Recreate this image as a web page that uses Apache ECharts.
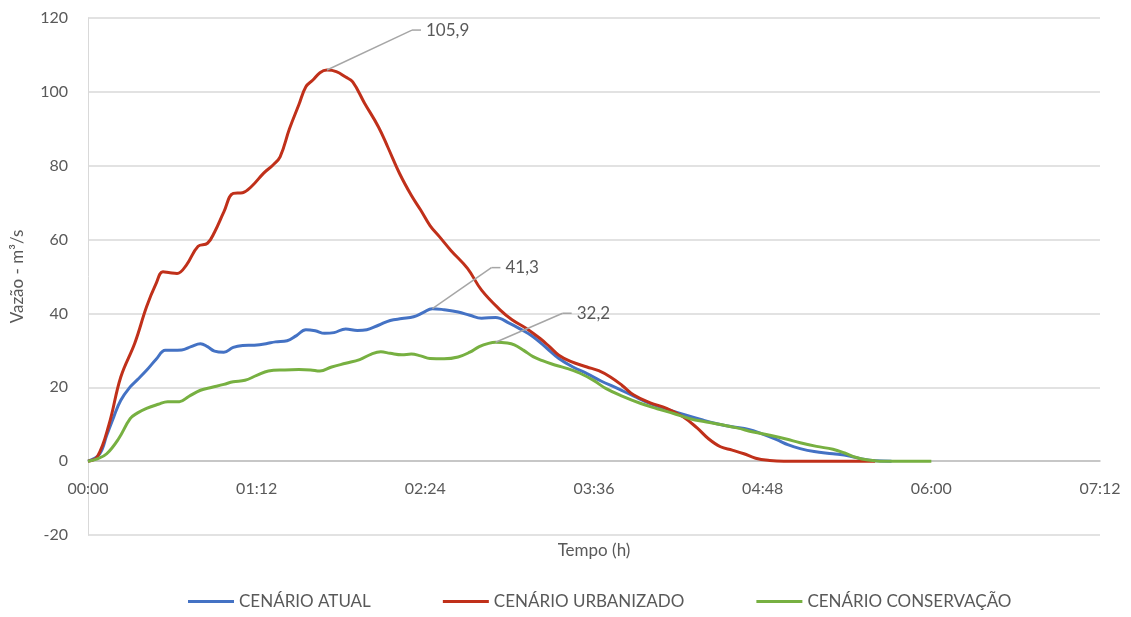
<!DOCTYPE html>
<html>
<head>
<meta charset="utf-8">
<script src="https://cdn.jsdelivr.net/npm/echarts@6/dist/echarts.min.js"></script>
<style>
  html, body { margin: 0; padding: 0; background: #fff; }
  #chart { width: 1131px; height: 617px; }
</style>
</head>
<body>
<div id="chart"></div>
<script>
// tempo em minutos desde 00:00
var tAtual = [0, 5, 8, 11, 14, 18, 21, 25, 29, 33, 36, 40, 44, 48, 51, 54, 58, 62, 66, 71, 76, 80, 85, 89, 93, 97, 101, 105, 110, 115, 119, 124, 129, 134, 139, 143, 147, 152, 158, 163, 168, 174, 180, 185, 190, 196, 201, 207, 213, 219, 226, 233, 240, 248, 255, 262, 268, 275, 282, 288, 294, 299, 304, 310, 318, 325, 331, 336, 343];
var vAtual = [0, 2, 7, 12, 16.5, 20.1, 22, 24.6, 27.5, 30, 30, 30.1, 31, 31.8, 31, 29.8, 29.5, 30.8, 31.3, 31.4, 31.8, 32.3, 32.6, 34, 35.6, 35.3, 34.6, 34.8, 35.8, 35.4, 35.6, 36.8, 38.1, 38.6, 39.1, 40.2, 41.3, 41, 40.4, 39.5, 38.7, 38.9, 37.3, 35.6, 33.7, 30.5, 27.8, 25.5, 23.7, 21.7, 19.7, 17.6, 15.6, 13.9, 12.5, 11.2, 10.2, 9.3, 8.6, 7.3, 5.8, 4.4, 3.4, 2.6, 2, 1.4, 0.5, 0.1, 0];

var tUrb = [0, 4, 9, 14, 20, 25, 29, 32, 35, 38, 42, 47, 51, 54, 58, 62, 66, 70, 75, 79, 82, 86, 90, 93, 96, 99, 102, 106, 110, 113, 118, 124, 128, 133, 138, 142, 146, 150, 155, 162, 168, 176, 181, 187, 193, 197, 201, 206, 213, 218, 223, 228, 233, 240, 247, 254, 260, 265, 270, 275, 280, 285, 291, 297, 336];
var vUrb = [0, 1.2, 10, 22.8, 32, 41.8, 48, 51.3, 51, 50.8, 53.1, 58.2, 59, 62, 67.5, 72.5, 72.7, 74.5, 78, 80.2, 82.4, 90, 96.5, 101.4, 103.2, 105.2, 105.9, 105.5, 104, 102.7, 97, 90.5, 85, 77.9, 72, 68, 63.8, 60.8, 57, 52.2, 46.3, 40.9, 38.3, 36, 33.2, 31, 28.7, 27, 25.5, 24.5, 22.8, 20.5, 17.9, 15.8, 14.3, 12, 9, 6, 3.9, 3, 2, 0.8, 0.2, 0, 0];

var tCons = [0, 4, 8, 13, 18, 21, 25, 30, 34, 39, 43, 48, 53, 58, 62, 67, 72, 77, 84, 90, 95, 99, 104, 110, 116, 121, 125, 129, 134, 138, 142, 146, 152, 158, 163, 167, 171, 174, 179, 182, 186, 190, 194, 198, 204, 210, 216, 221, 228, 236, 243, 250, 257, 264, 270, 277, 284, 291, 298, 304, 311, 318, 323, 328, 333, 338, 350, 360];
var vCons = [0, 0.6, 2, 6, 11.5, 13, 14.3, 15.4, 16.1, 16.1, 17.5, 19.2, 20, 20.8, 21.5, 21.9, 23.2, 24.4, 24.7, 24.8, 24.7, 24.4, 25.5, 26.5, 27.5, 29, 29.6, 29.2, 28.8, 29, 28.5, 27.8, 27.7, 28.2, 29.5, 31, 31.9, 32.2, 32, 31.5, 30, 28.3, 27.2, 26.3, 25.2, 23.8, 21.8, 19.7, 17.6, 15.6, 14.2, 12.9, 11.5, 10.6, 9.9, 9, 7.9, 7, 6, 5, 4, 3.2, 2.2, 1, 0.3, 0, 0, 0];

var nomes = ['CENÁRIO ATUAL', 'CENÁRIO URBANIZADO', 'CENÁRIO CONSERVAÇÃO'];
var cores = ['#4472c4', '#c0301a', '#77b041'];
// deslocamento dos rótulos de pico (px)
var desloc = [[59, -41], [85, -40], [67, -29]];

var fonte = 'Lato';
var cinza = '#595959';
var guia = '#a6a6a6';

function montar(ts, vs) {
  var iMax = 0;
  for (var i = 1; i < vs.length; i++) if (vs[i] > vs[iMax]) iMax = i;
  return ts.map(function (t, i) {
    if (i !== iMax) return [t, vs[i]];
    return {
      value: [t, vs[i]],
      label: {
        show: true,
        position: 'right',
        distance: 0,
        formatter: '{l| }{v|' + vs[i].toFixed(1).replace('.', ',') + '}',
        rich: {
          l: { width: 9, height: 1.5, backgroundColor: guia },
          v: { color: cinza, fontFamily: fonte, fontSize: 17, padding: [0, 0, 0, 5] }
        }
      },
      labelLine: { show: true, lineStyle: { color: guia, width: 1.5 } }
    };
  });
}

function pad(n) { return (n < 10 ? '0' : '') + n; }

var dados = [montar(tAtual, vAtual), montar(tUrb, vUrb), montar(tCons, vCons)];

var myChart = echarts.init(document.getElementById('chart'));

var option = {
  animation: false,
  grid: { left: 88, right: 31, top: 18, bottom: 82, outerBoundsMode: 'none', containLabel: false },
  legend: {
    bottom: 2,
    left: 183,
    icon: 'rect',
    itemWidth: 46,
    itemHeight: 3,
    itemGap: 72,
    textStyle: { color: cinza, fontFamily: fonte, fontSize: 17 },
    data: nomes
  },
  xAxis: {
    type: 'value',
    min: 0,
    max: 432,
    interval: 72,
    // eixo deslocado até a linha do zero
    offset: -74,
    name: 'Tempo (h)',
    nameLocation: 'middle',
    nameGap: 81,
    nameTextStyle: { color: cinza, fontFamily: fonte, fontSize: 17 },
    axisLine: { onZero: false, lineStyle: { color: '#bfbfbf', width: 1.5 } },
    axisTick: { show: false },
    splitLine: { show: false },
    axisLabel: {
      color: cinza,
      fontFamily: fonte,
      fontSize: 16,
      margin: 20,
      formatter: function (v) { return pad(Math.floor(v / 60)) + ':' + pad(v % 60); }
    }
  },
  yAxis: {
    type: 'value',
    min: -20,
    max: 120,
    interval: 20,
    name: 'Vazão - m³/s',
    nameLocation: 'middle',
    nameGap: 62,
    nameTextStyle: { color: cinza, fontFamily: fonte, fontSize: 17 },
    axisLine: { show: true, lineStyle: { color: '#d9d9d9' } },
    axisTick: { show: false },
    splitLine: { lineStyle: { color: '#d9d9d9', width: 1.5 } },
    axisLabel: { color: cinza, fontFamily: fonte, fontSize: 16, margin: 20 }
  },
  series: nomes.map(function (n, k) {
    return {
      name: n,
      type: 'line',
      data: dados[k],
      smooth: 0.4,
      showSymbol: true,
      symbol: 'circle',
      symbolSize: 0.1,
      itemStyle: { color: cores[k] },
      lineStyle: { color: cores[k], width: 3 },
      labelLayout: function (p) {
        return { dx: desloc[k][0], dy: desloc[k][1] };
      }
    };
  })
};

myChart.setOption(option);
</script>
</body>
</html>
